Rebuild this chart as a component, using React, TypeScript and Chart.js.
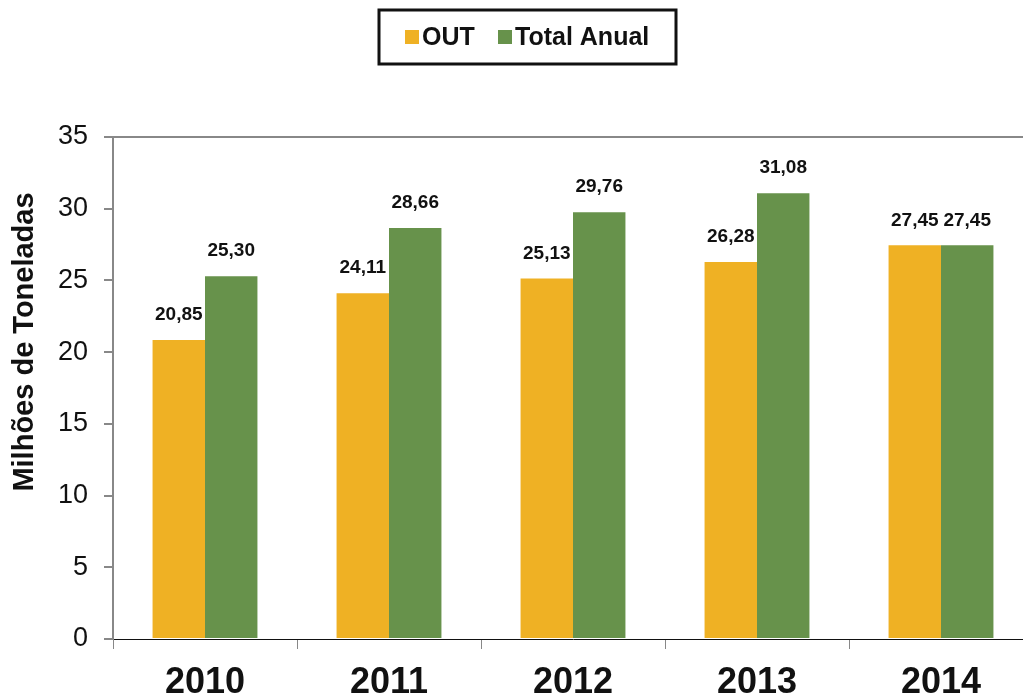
import React, { useEffect, useRef } from "react";
import { Chart, registerables } from "chart.js";

Chart.register(...registerables);

const categories = ["2010", "2011", "2012", "2013", "2014"];
const outValues = [20.85, 24.11, 25.13, 26.28, 27.45];
const totalValues = [25.3, 28.66, 29.76, 31.08, 27.45];
const seriesNames = ["OUT", "Total Anual"];
const yTicks = { min: 0, max: 35, step: 5 };
const yTitle = "Milhões de Toneladas";

const YELLOW = "#EFB124";
const GREEN = "#67924B";
const TEXT = "#111111";
const GREY = "#888888";
const FONT = "'Liberation Sans', Arial, sans-serif";

const fmt = (v: number) => v.toFixed(2).replace(".", ",");

const labelPlugin = {
  id: "valueLabels",
  afterDatasetsDraw(chart: any) {
    const ctx = chart.ctx;
    ctx.save();
    ctx.font = `bold 19px ${FONT}`;
    ctx.fillStyle = TEXT;
    ctx.textAlign = "center";
    ctx.textBaseline = "middle";
    chart.data.datasets.forEach((ds: any, di: number) => {
      const meta = chart.getDatasetMeta(di);
      meta.data.forEach((el: any, i: number) => {
        ctx.fillText(fmt(ds.data[i]), el.x, el.y - 25);
      });
    });
    ctx.restore();
  },
};

const decorPlugin = {
  id: "decor",
  afterDraw(chart: any) {
    const ctx = chart.ctx;
    ctx.save();
    // legend box
    ctx.strokeStyle = TEXT;
    ctx.lineWidth = 3;
    ctx.strokeRect(379, 10, 297, 54);
    ctx.font = `bold 25px ${FONT}`;
    ctx.textBaseline = "middle";
    ctx.textAlign = "left";
    const colors = [YELLOW, GREEN];
    const xs = [405, 498];
    seriesNames.forEach((n, i) => {
      ctx.fillStyle = colors[i];
      ctx.fillRect(xs[i], 30, 14, 14);
      ctx.fillStyle = TEXT;
      ctx.fillText(n, xs[i] + 17, 38);
    });
    // y axis title
    ctx.translate(25, 342);
    ctx.rotate(-Math.PI / 2);
    ctx.textAlign = "center";
    ctx.font = `bold 29px ${FONT}`;
    ctx.fillText(yTitle, 0, 0);
    ctx.restore();
  },
};

export default function App() {
  const ref = useRef<HTMLCanvasElement>(null);
  useEffect(() => {
    if (!ref.current) return;
    const chart = new Chart(ref.current, {
      type: "bar",
      data: {
        labels: categories,
        datasets: [
          { label: seriesNames[0], data: outValues, backgroundColor: YELLOW, categoryPercentage: 0.57, barPercentage: 1 },
          { label: seriesNames[1], data: totalValues, backgroundColor: GREEN, categoryPercentage: 0.57, barPercentage: 1 },
        ],
      },
      options: {
        responsive: false,
        animation: false,
        layout: { padding: { top: 137, left: 0, right: 0, bottom: 0 } },
        plugins: { legend: { display: false }, tooltip: { enabled: false } },
        scales: {
          x: {
            afterFit: (s: any) => { s.height = 59; },
            grid: { drawOnChartArea: false, drawTicks: true, tickLength: 10, color: GREY, offset: true },
            border: { color: TEXT, width: 1 },
            ticks: { color: TEXT, font: { family: FONT, size: 36, weight: "bold", lineHeight: 1 }, padding: 16 },
          },
          y: {
            min: yTicks.min,
            max: yTicks.max,
            afterFit: (s: any) => { s.width = 113; },
            grid: {
              drawOnChartArea: true,
              drawTicks: true,
              tickLength: 9,
              tickColor: GREY,
              lineWidth: 2,
              color: (c: any) => (c.tick && c.tick.value === yTicks.max ? GREY : "rgba(0,0,0,0)"),
            },
            border: { color: GREY, width: 2 },
            ticks: { stepSize: yTicks.step, color: TEXT, font: { family: FONT, size: 27 }, padding: 16 },
          },
        },
      },
      plugins: [labelPlugin, decorPlugin],
    });
    return () => chart.destroy();
  }, []);
  return (
    <div style={{ position: "fixed", left: 0, top: 0, width: 1023, height: 698, overflow: "hidden", background: "#fff" }}>
      <canvas ref={ref} width={1033} height={698} style={{ display: "block" }} />
    </div>
  );
}
